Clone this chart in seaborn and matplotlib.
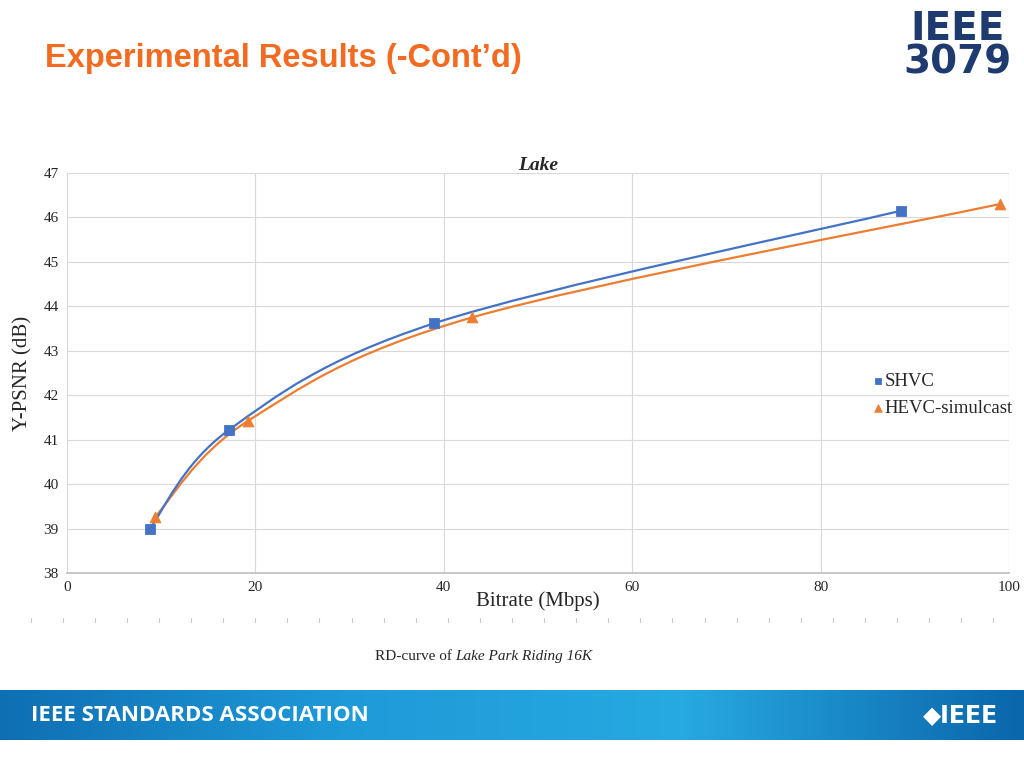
import numpy as np
import matplotlib
matplotlib.use("Agg")
import matplotlib.pyplot as plt
import seaborn as sns
from matplotlib.path import Path
from matplotlib.patches import PathPatch
from matplotlib.colors import LinearSegmentedColormap

# data
shvc_rate = [8.8, 17.2, 39.0, 88.5]
shvc_psnr = [39.0, 41.22, 43.62, 46.15]
hevc_rate = [9.3, 19.2, 43.0, 99.0]
hevc_psnr = [39.25, 41.42, 43.75, 46.3]
x_ticks = [0, 20, 40, 60, 80, 100]
y_ticks = [38, 39, 40, 41, 42, 43, 44, 45, 46, 47]

blue = "#4472c4"
orange = "#ed7d31"
serif = "Liberation Serif"

sns.set_theme(style="white")
fig = plt.figure(figsize=(10.24, 7.68), dpi=100)
fig.patch.set_facecolor("white")


def smooth_path(xs, ys, t=1 / 6):
    # excel-style smooth line: cardinal spline as cubic bezier segments
    pts = list(zip(xs, ys))
    verts = [pts[0]]
    codes = [Path.MOVETO]
    for i in range(len(pts) - 1):
        p0 = pts[i - 1] if i > 0 else pts[i]
        p1, p2 = pts[i], pts[i + 1]
        p3 = pts[i + 2] if i + 2 < len(pts) else pts[i + 1]
        c1 = (p1[0] + (p2[0] - p0[0]) * t, p1[1] + (p2[1] - p0[1]) * t)
        c2 = (p2[0] - (p3[0] - p1[0]) * t, p2[1] - (p3[1] - p1[1]) * t)
        verts += [c1, c2, p2]
        codes += [Path.CURVE4] * 3
    return Path(verts, codes)


ax = fig.add_axes([0.0654, 0.2539, 0.9199, 0.5208])
ax.add_patch(PathPatch(smooth_path(hevc_rate, hevc_psnr), fill=False, color=orange, lw=1.6))
ax.add_patch(PathPatch(smooth_path(shvc_rate, shvc_psnr), fill=False, color=blue, lw=1.6))
sns.scatterplot(x=shvc_rate, y=shvc_psnr, marker="s", s=50, color=blue, edgecolor=blue, ax=ax, label="SHVC", zorder=3)
sns.scatterplot(x=hevc_rate, y=hevc_psnr, marker="^", s=60, color=orange, edgecolor=orange, ax=ax, label="HEVC-simulcast", zorder=3)

ax.set_xlim(0, 100)
ax.set_ylim(38, 47)
ax.set_xticks(x_ticks)
ax.set_yticks(y_ticks)
ax.grid(True, color="#d9d9d9", lw=0.8)
for s in ["top", "right", "left"]:
    ax.spines[s].set_visible(False)
ax.spines["bottom"].set_color("#bfbfbf")
ax.tick_params(labelsize=11, length=0, pad=6)
for lab in ax.get_xticklabels() + ax.get_yticklabels():
    lab.set_fontfamily(serif)
ax.set_xlabel("Bitrate (Mbps)", fontsize=15, fontfamily=serif, labelpad=-2)
ax.set_ylabel("Y-PSNR (dB)", fontsize=15, fontfamily=serif, labelpad=8)
ax.set_title("Lake", fontsize=14, fontfamily=serif, fontweight="bold", fontstyle="italic", pad=2)
leg = ax.legend(loc="upper left", bbox_to_anchor=(0.848, 0.52), frameon=False,
                handlelength=0.5, handletextpad=0.1, borderaxespad=0, labelspacing=0.55,
                prop={"family": serif, "size": 13.5}, markerscale=0.7)

# slide decorations
fig.text(0.044, 0.924, "Experimental Results (-Cont\u2019d)", color="#f26b21",
         fontsize=23.5, fontweight="bold", fontfamily="Liberation Sans", va="center")
fig.text(0.935, 0.94, "IEEE\n3079", color="#1f3a6e", fontsize=28, fontweight="bold",
         fontfamily="Liberation Sans Narrow", ha="center", va="center", linespacing=0.85)
fig.text(0.445, 0.145, "RD-curve of ", fontsize=11, fontfamily=serif, ha="right", va="center")
fig.text(0.445, 0.145, "Lake Park Riding 16K", fontsize=11, fontfamily=serif,
         fontstyle="italic", ha="left", va="center")

# dotted tick row under the chart
for xx in np.linspace(0.03, 0.97, 31):
    fig.add_artist(plt.Line2D([xx, xx], [0.190, 0.195], color="#c8c8c8", lw=0.8))

band = fig.add_axes([0, 0.036, 1, 0.066])
cmap = LinearSegmentedColormap.from_list("band", ["#0f6fb3", "#1e9ad8", "#27a9e1", "#0b66ab"])
band.imshow(np.linspace(0, 1, 256)[None, :], aspect="auto", cmap=cmap, extent=[0, 1, 0, 1])
band.axis("off")
band.text(0.03, 0.5, "IEEE STANDARDS ASSOCIATION", color="white", fontsize=16,
          fontweight="bold", fontfamily="Open Sans", va="center")
band.text(0.975, 0.5, "\u25C6IEEE", color="white", fontsize=17, fontweight="bold",
          fontfamily="DejaVu Sans", va="center", ha="right")

fig.savefig("out.png", dpi=100)
